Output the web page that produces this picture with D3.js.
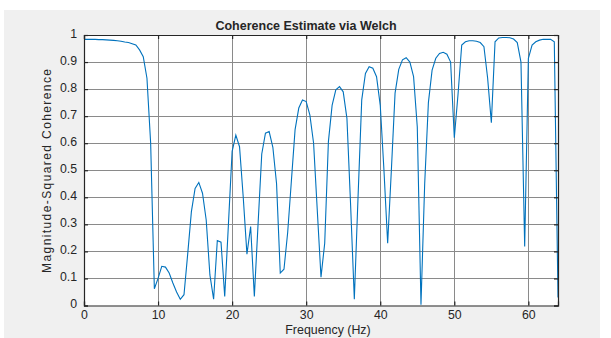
<!DOCTYPE html>
<html>
<head>
<meta charset="utf-8">
<script src="https://cdn.jsdelivr.net/npm/d3@7"></script>
<style>
  body { margin: 0; background: #fff; }
  text { font-family: "Liberation Sans", Arial, sans-serif; fill: #262626; }
</style>
</head>
<body>
<script>
// frequency bins, 0.5 Hz apart
var freq = d3.range(0, 64.5, 0.5);
var coh = [
  0.984, 0.984, 0.984, 0.984, 0.983, 0.983, 0.982, 0.981, 0.980, 0.979,
  0.977, 0.974, 0.972, 0.968, 0.963, 0.945, 0.92, 0.84, 0.6, 0.062,
  0.10, 0.145, 0.142, 0.12, 0.083, 0.05, 0.023, 0.04, 0.19, 0.347,
  0.433, 0.455, 0.415, 0.316, 0.113, 0.023, 0.24, 0.234, 0.033, 0.30,
  0.57, 0.63, 0.587, 0.40, 0.19, 0.292, 0.033, 0.30, 0.56, 0.637,
  0.643, 0.585, 0.45, 0.12, 0.134, 0.27, 0.46, 0.65, 0.73, 0.76,
  0.754, 0.704, 0.60, 0.35, 0.105, 0.23, 0.606, 0.74, 0.797, 0.809,
  0.79, 0.692, 0.37, 0.023, 0.40, 0.76, 0.858, 0.883, 0.877, 0.846,
  0.74, 0.50, 0.23, 0.50, 0.785, 0.873, 0.908, 0.916, 0.90, 0.846,
  0.66, 0.003, 0.45, 0.75, 0.87, 0.914, 0.932, 0.936, 0.929, 0.90,
  0.62, 0.78, 0.963, 0.975, 0.979, 0.979, 0.977, 0.972, 0.957, 0.84,
  0.676, 0.975, 0.989, 0.991, 0.991, 0.99, 0.985, 0.972, 0.90, 0.218,
  0.914, 0.963, 0.975, 0.981, 0.984, 0.984, 0.984, 0.975, 0.03
];
var xTicks = [0, 10, 20, 30, 40, 50, 60];
var yTicks = [0, 0.1, 0.2, 0.3, 0.4, 0.5, 0.6, 0.7, 0.8, 0.9, 1];

var W = 611, H = 338;
var L = 84, R = 558, T = 35, B = 305.5;

var svg = d3.select("body").append("svg")
  .attr("width", W).attr("height", H);

svg.append("rect").attr("x", 4).attr("y", 10)
  .attr("width", 596).attr("height", 328).attr("fill", "#f0f0f0");

var x = d3.scaleLinear().domain([0, 64]).range([L, R]);
var y = d3.scaleLinear().domain([0, 1]).range([B, T]);

svg.append("rect").attr("x", L).attr("y", T)
  .attr("width", R - L).attr("height", B - T).attr("fill", "#fff");

// grid
var grid = svg.append("g").attr("stroke", "#8a8a8a").attr("stroke-width", 1);
grid.selectAll(".gx").data(xTicks.slice(1)).enter().append("line")
  .attr("x1", d => Math.round(x(d)) + 0.5).attr("x2", d => Math.round(x(d)) + 0.5)
  .attr("y1", T).attr("y2", B);
grid.selectAll(".gy").data(yTicks.slice(1, -1)).enter().append("line")
  .attr("y1", d => Math.round(y(d)) + 0.5).attr("y2", d => Math.round(y(d)) + 0.5)
  .attr("x1", L).attr("x2", R);

// data line
var line = d3.line().x((d, i) => x(freq[i])).y(d => y(d));
svg.append("path").datum(coh)
  .attr("d", line)
  .attr("fill", "none")
  .attr("stroke", "#0072BD")
  .attr("stroke-width", 1.1);

// axes with inward ticks on all sides
var axB = svg.append("g").attr("transform", "translate(0," + B + ")")
  .call(d3.axisBottom(x).tickValues(xTicks).tickSize(-4).tickPadding(5).tickFormat(d3.format("d")));
var axT = svg.append("g").attr("transform", "translate(0," + T + ")")
  .call(d3.axisTop(x).tickValues(xTicks).tickSize(-4).tickFormat(""));
var axL = svg.append("g").attr("transform", "translate(" + L + ",0)")
  .call(d3.axisLeft(y).tickValues(yTicks).tickSize(-4).tickPadding(7).tickFormat(d => d === 0 || d === 1 ? d : d3.format(".1f")(d)));
var axR = svg.append("g").attr("transform", "translate(" + R + ",0)")
  .call(d3.axisRight(y).tickValues(yTicks).tickSize(-4).tickFormat(""));

[axB, axT, axL, axR].forEach(function (g) {
  g.select(".domain").attr("stroke", "#262626").attr("stroke-width", 1.2);
  g.selectAll(".tick line").attr("stroke", "#262626").attr("stroke-width", 1.2);
  g.selectAll("text").style("font-size", "12.3px").attr("fill", "#262626")
    .style("font-family", "'Liberation Sans', Arial, sans-serif");
});
axL.selectAll("text").attr("dy", "0.2em");

svg.append("text").attr("x", 306).attr("y", 30)
  .attr("text-anchor", "middle")
  .style("font-size", "12.5px").style("font-weight", "bold")
  .attr("fill", "#000")
  .text("Coherence Estimate via Welch");

svg.append("text").attr("x", 328).attr("y", 333.5)
  .attr("text-anchor", "middle")
  .style("font-size", "12.4px")
  .text("Frequency (Hz)");

svg.append("text")
  .attr("transform", "translate(50.5," + (T + B) / 2 + ") rotate(-90)")
  .attr("text-anchor", "middle")
  .style("font-size", "12px").style("letter-spacing", "1.4px")
  .text("Magnitude-Squared Coherence");
</script>
</body>
</html>
